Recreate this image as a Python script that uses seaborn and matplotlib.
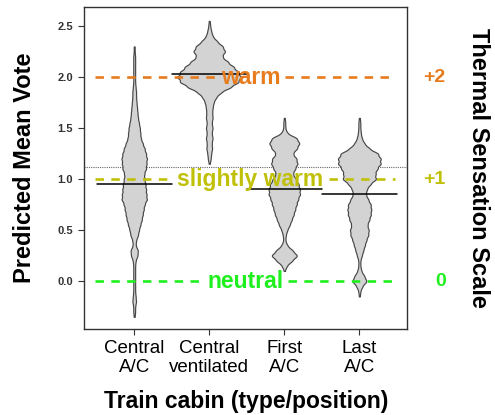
import numpy as np
import pandas as pd
import matplotlib.pyplot as plt
import seaborn as sns

# categories (x axis)
cabins = ["Central\nA/C", "Central\nventilated", "First\nA/C", "Last\nA/C"]

acc_pmv = [2.30, 2.25, 2.20, 2.15, 2.10, 2.05, 2.00, 1.95, 1.90, 1.85, 1.80, 1.75, 1.70, 1.65,
           1.60, 1.55, 1.50, 1.45, 1.40, 1.35, 1.30, 1.25, 1.20, 1.15, 1.10, 1.05, 1.00, 0.95,
           0.90, 0.85, 0.80, 0.75, 0.70, 0.65, 0.60, 0.55, 0.50, 0.45, 0.40, 0.35, 0.30, 0.25,
           0.20, 0.15, 0.10, 0.05, 0.00, -0.05, -0.10, -0.15, -0.20, -0.25, -0.30, -0.35]
acc_n = [1, 1, 2, 2, 2, 2, 2, 2, 3, 4, 4, 5, 6, 7,
         8, 10, 12, 13, 14, 18, 22, 25, 27, 26, 25, 21, 22, 24,
         25, 26, 27, 22, 20, 18, 16, 13, 10, 8, 4, 3, 8, 7,
         3, 2, 2, 2, 2, 2, 2, 3, 4, 2, 2, 1]

cvent_pmv = [2.55, 2.50, 2.45, 2.40, 2.35, 2.30, 2.25, 2.20, 2.15, 2.10, 2.05, 2.00, 1.95, 1.90,
             1.85, 1.80, 1.75, 1.70, 1.65, 1.60, 1.55, 1.50, 1.45, 1.40, 1.35, 1.30, 1.25, 1.20,
             1.15]
cvent_n = [1, 2, 4, 7, 16, 28, 33, 26, 38, 50, 60, 66, 60, 44,
           24, 14, 9, 7, 6, 7, 5, 7, 5, 7, 5, 6, 4, 3,
           1]

first_pmv = [1.60, 1.55, 1.50, 1.45, 1.40, 1.35, 1.30, 1.25, 1.20, 1.15, 1.10, 1.05, 1.00, 0.95,
             0.90, 0.85, 0.80, 0.75, 0.70, 0.65, 0.60, 0.55, 0.50, 0.45, 0.40, 0.35, 0.30, 0.25,
             0.20, 0.15, 0.10]
first_n = [1, 2, 2, 6, 26, 31, 26, 17, 25, 27, 22, 17, 24, 29,
           32, 32, 28, 25, 22, 19, 15, 11, 6, 3, 2, 6, 17, 27,
           16, 5, 1]

last_pmv = [1.60, 1.55, 1.50, 1.45, 1.40, 1.35, 1.30, 1.25, 1.20, 1.15, 1.10, 1.05, 1.00, 0.95,
            0.90, 0.85, 0.80, 0.75, 0.70, 0.65, 0.60, 0.55, 0.50, 0.45, 0.40, 0.35, 0.30, 0.25,
            0.20, 0.15, 0.10, 0.05, 0.00, -0.05, -0.10, -0.15]
last_n = [1, 2, 2, 3, 5, 10, 20, 38, 43, 43, 36, 32, 34, 22,
          15, 13, 18, 23, 24, 23, 20, 16, 19, 18, 14, 11, 8, 5,
          2, 2, 4, 10, 15, 6, 2, 1]

# bean means and overall mean
bean_means = [0.95, 2.03, 0.90, 0.85]
overall_mean = 1.12

# thermal sensation scale reference lines
scale_pmv = [2.0, 1.0, 0.0]
scale_words = ["warm", "slightly warm", "neutral"]
scale_codes = ["+2", "+1", "0"]
scale_colors = ["#e67c1e", "#c0c008", "#1ef01e"]

rows = []
for cab, lev, n in zip(cabins, [acc_pmv, cvent_pmv, first_pmv, last_pmv],
                       [acc_n, cvent_n, first_n, last_n]):
    rows.append(pd.DataFrame({"cabin": cab, "pmv": np.repeat(lev, n)}))
df = pd.concat(rows, ignore_index=True)

sns.set_style("ticks")
plt.rcParams['font.family'] = ['Liberation Sans', 'DejaVu Sans']
plt.rcParams['text.color'] = 'black'
plt.rcParams['axes.labelcolor'] = 'black'

fig = plt.figure(figsize=(4.95, 4.15), dpi=100)
ax = fig.add_axes([0.170, 0.207, 0.653, 0.776])

# overall mean (dotted, behind the beans)
ax.axhline(overall_mean, color="#666666", lw=0.8, ls=(0, (1, 1)), zorder=0.5)

bean_widths = [0.34, 0.85, 0.42, 0.57]
bw = lambda k: 0.024 / k.dataset.std(ddof=1)
for cab, w in zip(cabins, bean_widths):
    sns.violinplot(data=df[df["cabin"] == cab], x="cabin", y="pmv", order=cabins,
                   width=w, density_norm="width", cut=0, bw_method=bw, gridsize=400,
                   inner=None, color="#d3d3d3", linecolor="#474747", linewidth=0.85,
                   saturation=1, ax=ax)

for i, m in enumerate(bean_means):
    ax.plot([i - 0.5, i + 0.5], [m, m], color="black", lw=1.1, zorder=3)

ax.set_xlim(-0.667, 3.64)
ax.set_ylim(-0.47, 2.686)
ax.set_yticks([0.0, 0.5, 1.0, 1.5, 2.0, 2.5])
ax.set_yticklabels(["0.0", "0.5", "1.0", "1.5", "2.0", "2.5"])
ax.tick_params(axis="y", labelsize=8, length=4, width=0.8, pad=4, colors="#333333")
ax.tick_params(axis="x", labelsize=13.5, length=4, width=0.8, pad=4, colors="#333333")
for lab in ax.get_yticklabels():
    lab.set_fontweight("bold")
for lab in ax.get_xticklabels():
    lab.set_color("black")
    lab.set_linespacing(1.15)
for sp in ax.spines.values():
    sp.set_visible(True)
    sp.set_color("#333333")
    sp.set_linewidth(1.0)

ax.set_xlabel("Train cabin (type/position)", fontsize=16.5, fontweight="bold")
ax.set_ylabel("Predicted Mean Vote", fontsize=17, fontweight="bold")
ax.xaxis.set_label_coords(0.5, -0.19)
ax.yaxis.set_label_coords(-0.15, 0.5)

fig.canvas.draw()
renderer = fig.canvas.get_renderer()
inv = ax.transData.inverted()
word_x = [1.55, 1.55, 1.48]
for y, word, code, col, wx in zip(scale_pmv, scale_words, scale_codes, scale_colors, word_x):
    t = ax.text(wx, y, word, color=col, fontsize=16.5, fontweight="bold",
                ha="center", va="center", zorder=5)
    bb = t.get_window_extent(renderer)
    x0 = inv.transform((bb.x0 - 5, 0))[0]
    x1 = inv.transform((bb.x1 + 5, 0))[0]
    ax.plot([-0.52, x0], [y, y], color=col, lw=1.9, dashes=(3.2, 2.8), zorder=4,
            dash_capstyle="butt")
    ax.plot([x1, 3.47], [y, y], color=col, lw=1.9, dashes=(3.2, 2.8), zorder=4,
            dash_capstyle="butt")
    ax.text(1.118, y, code, color=col, fontsize=14, fontweight="bold", ha="right",
            va="center", transform=ax.get_yaxis_transform(), clip_on=False)

fig.text(478 / 495, 1 - 168 / 415, "Thermal Sensation Scale", rotation=270,
         fontsize=17, fontweight="bold", ha="center", va="center")

fig.savefig("out.png", dpi=100)
